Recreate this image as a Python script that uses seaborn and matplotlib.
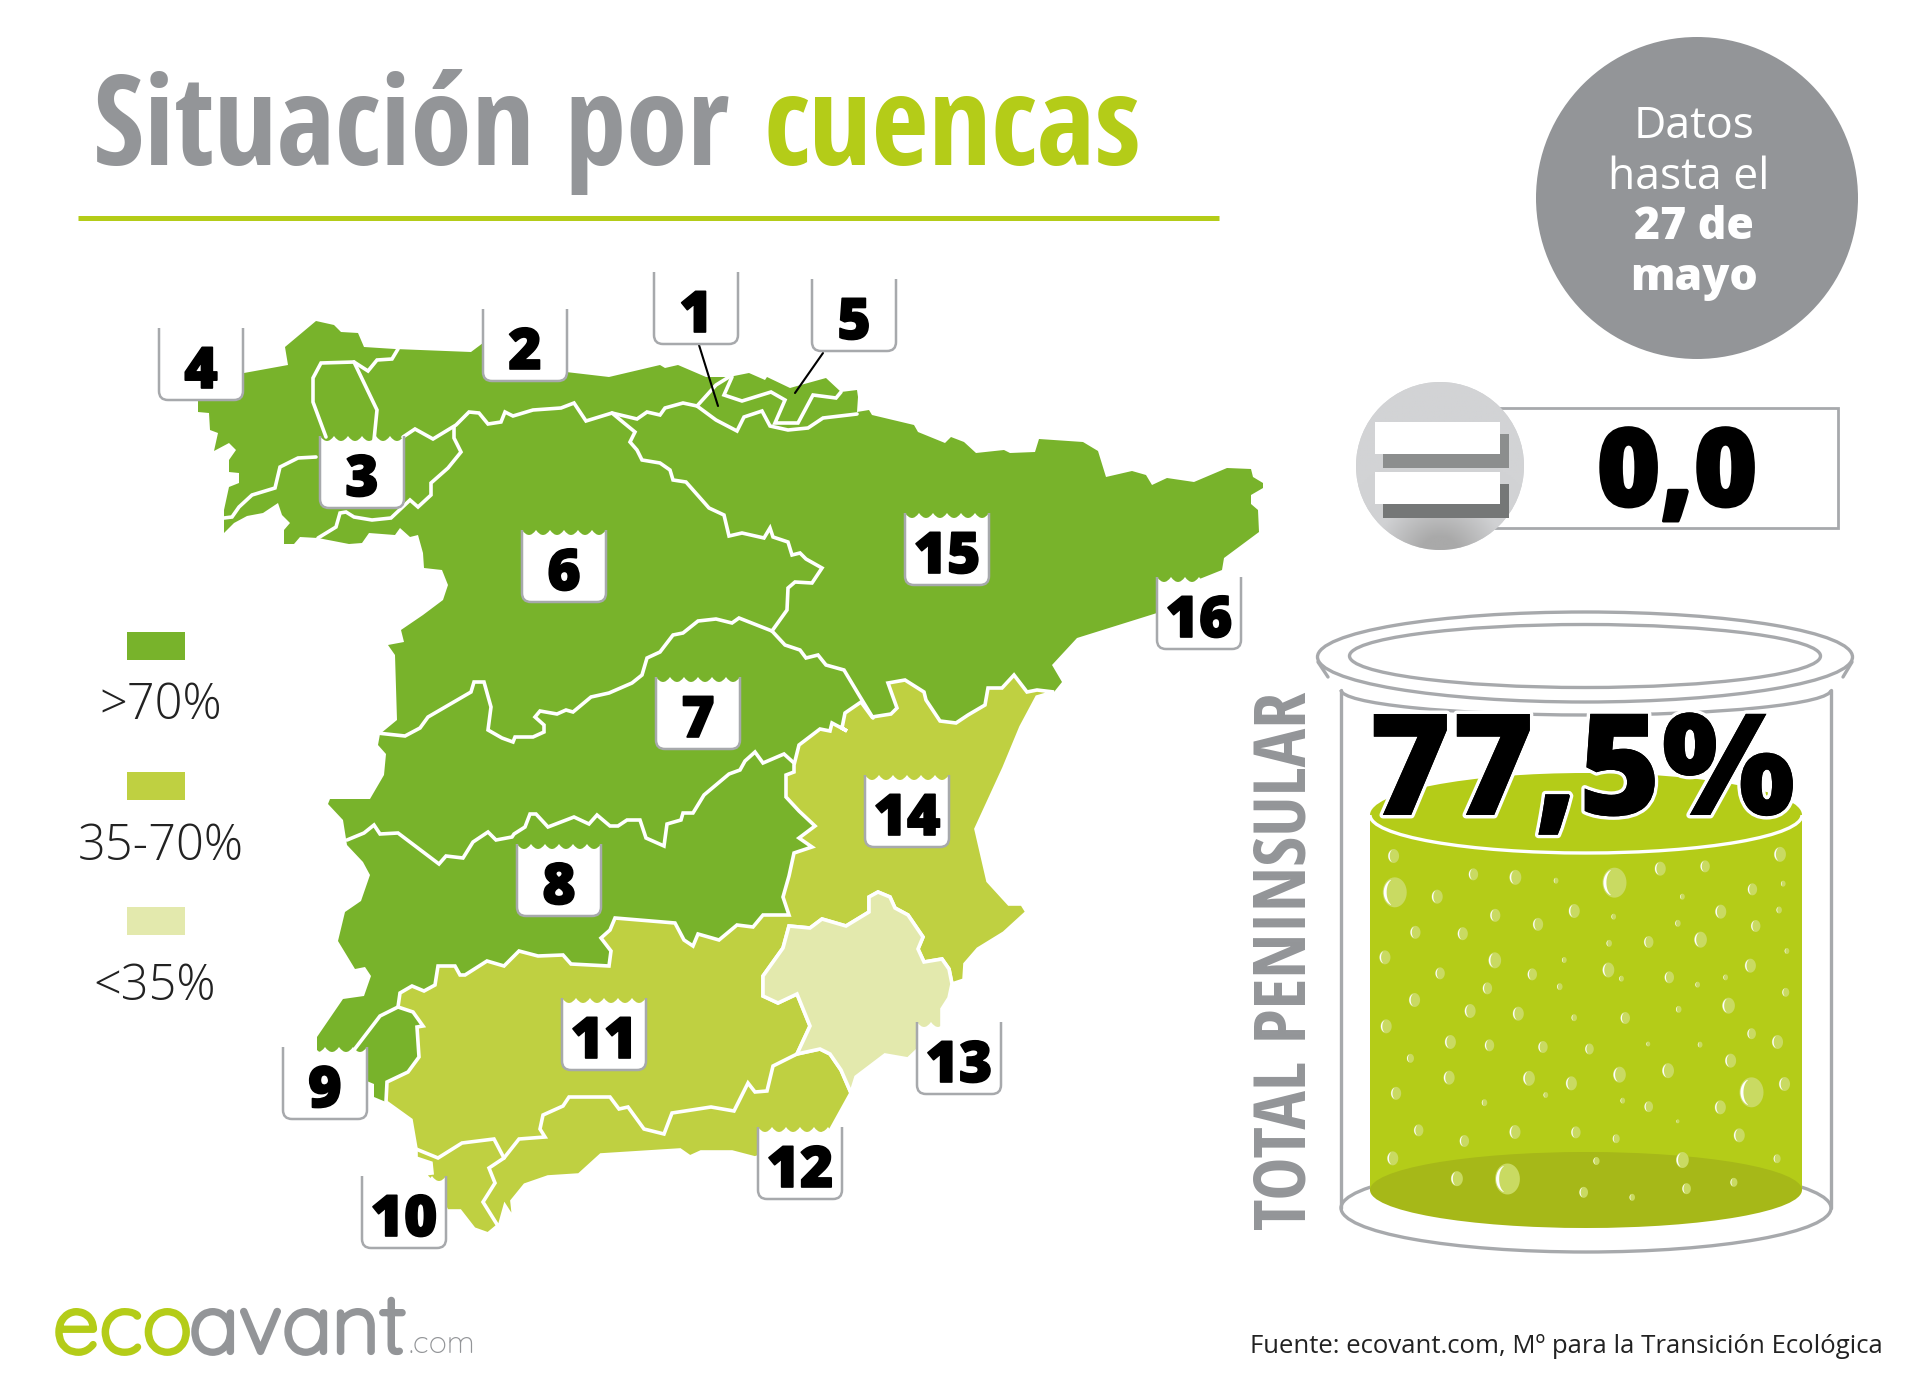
"""Situación por cuencas: reserva de agua por cuenca y total peninsular."""

import matplotlib.pyplot as plt
import matplotlib.patheffects as pe
import numpy as np
import pandas as pd
import seaborn as sns
from matplotlib.colors import LinearSegmentedColormap
from matplotlib.markers import MarkerStyle
from matplotlib.patches import Arc, Circle, Ellipse, PathPatch, Rectangle
from matplotlib.path import Path

# ── datos ──────────────────────────────────────────────────────────────────────

TITLE_GREY = "Situación por"
TITLE_GREEN = "cuencas"
TOTAL_VALUE = "77,5%"
WEEK_CHANGE = "0,0"
LEGEND_LABELS = [">70%", "35-70%", "<35%"]
SOURCE = "Fuente: ecovant.com, Mº para la Transición Ecológica"

# Contornos del mapa (x, y en píxeles)
COAST = [
    (224, 517), (224, 510), (229, 487), (239, 483), (239, 473), (229, 472), (229, 460), (236, 450),
    (229, 443), (214, 451), (218, 433), (210, 430), (209, 413), (198, 412), (198, 400), (244, 373),
    (288, 365), (285, 347), (316, 321), (334, 325), (341, 332), (358, 333), (364, 347), (395, 349),
    (471, 352), (483, 343), (566, 372), (609, 377), (660, 365), (665, 368), (678, 365), (706, 377),
    (729, 377), (749, 373), (765, 380), (767, 377), (790, 388), (826, 378), (841, 392), (857, 390),
    (858, 397), (857, 412), (869, 410), (872, 415), (914, 425), (918, 432), (945, 443), (951, 437),
    (964, 442), (976, 453), (1004, 450), (1010, 453), (1035, 452), (1039, 439), (1083, 442),
    (1098, 451), (1106, 477), (1132, 471), (1146, 475), (1152, 485), (1167, 478), (1194, 482),
    (1227, 468), (1251, 469), (1253, 477), (1263, 483), (1263, 488), (1251, 495), (1251, 504),
    (1258, 510), (1259, 532), (1224, 558), (1222, 570), (1197, 580), (1157, 613), (1077, 638),
    (1052, 665), (1062, 682), (1054, 692), (1037, 697), (1021, 727), (1004, 768), (976, 829),
    (988, 881), (1009, 904), (1022, 904), (1027, 912), (1004, 933), (978, 949), (965, 964),
    (964, 980), (952, 984), (949, 998), (942, 1009), (942, 1027), (908, 1059), (885, 1055),
    (856, 1077), (851, 1093), (830, 1131), (755, 1158), (732, 1152), (701, 1152), (690, 1157),
    (680, 1150), (601, 1155), (579, 1175), (548, 1177), (525, 1185), (512, 1201), (514, 1220),
    (505, 1206), (500, 1224), (488, 1234), (474, 1229), (460, 1211), (447, 1211), (431, 1181),
    (424, 1174), (432, 1173), (431, 1163), (416, 1158), (416, 1149), (411, 1120), (386, 1102),
    (374, 1097), (374, 1084), (340, 1070), (317, 1050), (317, 1037), (343, 999), (364, 996),
    (371, 976), (365, 967), (355, 969), (338, 941), (345, 912), (361, 901), (370, 875), (363, 862),
    (347, 845), (343, 820), (328, 804), (330, 799), (370, 799), (384, 775), (386, 754), (378, 745),
    (380, 734), (397, 720), (395, 655), (388, 645), (404, 642), (401, 630), (423, 615), (443, 600),
    (448, 585), (442, 570), (424, 568), (423, 553), (418, 535), (410, 537), (400, 528), (395, 535),
    (369, 533), (362, 543), (349, 544), (318, 538), (300, 537), (294, 544), (284, 544), (284, 530),
    (290, 523), (282, 515), (278, 503), (263, 513), (247, 516), (234, 523), (224, 533),
]
MID_BASINS = [
    (1054, 692), (1037, 690), (1027, 692), (1014, 675), (1002, 688), (988, 688), (985, 705),
    (968, 715), (956, 723), (940, 721), (926, 700), (924, 692), (905, 680), (888, 683), (897, 708),
    (891, 714), (872, 717), (861, 702), (845, 713), (842, 728), (847, 731), (832, 723), (830, 731),
    (820, 729), (799, 745), (794, 765), (794, 772), (786, 775), (786, 797), (799, 811), (815, 826),
    (799, 838), (812, 847), (794, 853), (789, 876), (783, 897), (789, 915), (763, 915), (753, 927),
    (737, 925), (719, 940), (698, 934), (693, 946), (684, 940), (675, 923), (615, 918), (610, 930),
    (601, 938), (611, 951), (609, 966), (571, 964), (563, 955), (538, 956), (519, 951), (504, 966),
    (487, 961), (465, 975), (460, 975), (455, 966), (438, 966), (435, 985), (424, 991), (412, 986),
    (400, 993), (398, 1007), (413, 1012), (423, 1026), (417, 1027), (419, 1057), (408, 1072),
    (387, 1082), (386, 1102), (411, 1120), (416, 1149), (416, 1158), (431, 1163), (432, 1173),
    (424, 1174), (431, 1181), (447, 1211), (460, 1211), (474, 1229), (488, 1234), (500, 1224),
    (505, 1206), (514, 1220), (512, 1201), (525, 1185), (548, 1177), (579, 1175), (601, 1155),
    (680, 1150), (690, 1157), (701, 1152), (732, 1152), (755, 1158), (830, 1131), (851, 1093),
    (841, 1070), (830, 1054), (820, 1049), (797, 1054), (810, 1026), (797, 994), (778, 1003),
    (763, 996), (763, 976), (783, 948), (789, 926), (810, 928), (822, 919), (846, 926), (869, 912),
    (869, 897), (878, 892), (890, 897), (895, 908), (908, 915), (923, 937), (918, 949), (924, 962),
    (942, 959), (949, 969), (952, 984), (964, 980), (965, 964), (978, 949), (1004, 933), (1027, 912),
    (1022, 904), (1009, 904), (988, 881), (976, 829), (1004, 768), (1021, 727), (1037, 697),
]
LOW_BASIN = [
    (789, 926), (810, 928), (822, 919), (846, 926), (869, 912), (869, 897), (878, 892), (890, 897),
    (895, 908), (908, 915), (923, 937), (918, 949), (924, 962), (942, 959), (949, 969), (952, 984),
    (949, 998), (942, 1009), (942, 1027), (908, 1059), (885, 1055), (856, 1077), (851, 1093),
    (841, 1070), (830, 1054), (820, 1049), (797, 1054), (810, 1026), (797, 994), (778, 1003),
    (763, 996), (763, 976), (783, 948),
]
# Fronteras interiores entre cuencas
BORDERS = [
    [(377, 733), (405, 736), (420, 728), (428, 717), (471, 692), (474, 682), (484, 682), (491, 707),
     (488, 730), (502, 738), (513, 742), (515, 737), (533, 737), (544, 732), (544, 725), (535, 717),
     (540, 711), (557, 714), (566, 710), (573, 712), (591, 697), (609, 693), (632, 683), (642, 675),
     (647, 658), (660, 652), (673, 635), (683, 633), (698, 621), (716, 619), (732, 623), (739, 618),
     (772, 631)],
    [(772, 631), (787, 610), (788, 588), (795, 582), (812, 583), (822, 568), (806, 559), (800, 553),
     (792, 555), (788, 542), (773, 537), (770, 528), (764, 538), (742, 533), (729, 536), (724, 515),
     (709, 508), (686, 482), (673, 480), (670, 470), (660, 463), (642, 460), (637, 450), (630, 442),
     (635, 432), (624, 423), (612, 413)],
    [(403, 437), (415, 429), (433, 439), (456, 425), (469, 412), (479, 413), (488, 424), (501, 422),
     (505, 412), (513, 416), (533, 410), (561, 408), (574, 403), (586, 421), (612, 413), (637, 419),
     (647, 412), (660, 415), (665, 408), (683, 403), (697, 406), (716, 420), (737, 431), (744, 417),
     (762, 411), (770, 426), (788, 430), (808, 428), (823, 418), (857, 414)],
    [(697, 406), (716, 385), (729, 377)],
    [(732, 377), (724, 395), (742, 401), (771, 392), (785, 400), (775, 423), (798, 423), (813, 395),
     (836, 398), (841, 392)],
    [(398, 349), (392, 359), (377, 360), (368, 371), (354, 362), (321, 363), (313, 378), (313, 402),
     (326, 437)],
    [(354, 362), (377, 410), (374, 440)],
    [(316, 457), (298, 458), (280, 467), (275, 488), (252, 495), (239, 507), (232, 517), (224, 518)],
    [(454, 427), (454, 438), (461, 452), (448, 468), (431, 483), (431, 495), (418, 507), (410, 500),
     (391, 518), (372, 520), (354, 517), (346, 512), (340, 513), (336, 527), (318, 538)],
    [(347, 840), (364, 833), (374, 825), (380, 834), (398, 833), (439, 864), (446, 856), (463, 858),
     (473, 842), (488, 832), (496, 840), (512, 837), (514, 834), (525, 827), (530, 814), (536, 814),
     (548, 827), (574, 817), (589, 824), (597, 815), (610, 826), (618, 826), (627, 820), (640, 820),
     (646, 838), (664, 846), (667, 824), (681, 820), (683, 813), (693, 813), (704, 795), (729, 774),
     (740, 770), (745, 761), (755, 752), (763, 763), (784, 754), (794, 763)],
    [(772, 631), (785, 645), (800, 650), (806, 658), (818, 655), (826, 665), (844, 670), (859, 695),
     (873, 718)],
    [(398, 1007), (380, 1016), (354, 1050)],
    [(416, 1149), (438, 1158), (462, 1143), (494, 1139), (504, 1158)],
    [(498, 1226), (483, 1202), (495, 1183), (489, 1168), (504, 1158), (519, 1139), (545, 1137),
     (540, 1129), (543, 1115), (563, 1106), (569, 1097), (610, 1097), (619, 1109), (628, 1107),
     (644, 1129), (664, 1134), (672, 1113), (711, 1107), (734, 1111), (748, 1083), (755, 1092),
     (767, 1091), (773, 1066), (797, 1054)],
]

# Etiquetas de cuenca: número y esquina superior izquierda
BASIN_IDS = ["1", "2", "3", "4", "5", "6", "7", "8", "9", "10", "11", "12", "13", "14", "15", "16"]
BASIN_LEFT = [654, 483, 320, 159, 812, 522, 656, 517, 283, 362, 562, 758, 917, 865, 905, 1157]
BASIN_TOP = [272, 309, 436, 328, 279, 530, 677, 844, 1047, 1176, 998, 1127, 1022, 775, 513, 577]

BUBBLE_ZX = [373, 376, 479, 567, 669, 768, 910, 1021, 1130, 1312, 1245, 1320, 1075, 620, 724, 812, 908,
             1168, 1310, 426, 541, 1064, 1253, 897, 993, 1119, 1329, 352, 619, 788, 486, 710, 895, 927,
             1043, 1240, 1180, 1112, 777, 601, 1326, 424, 559, 676, 812, 936, 1066, 1187, 355, 511, 606,
             736, 849, 992, 1118, 1243, 1306, 414, 1192, 508, 702, 805, 922, 1040, 1243, 1323, 379, 594,
             743, 930, 993, 1167, 1064, 434, 545, 668, 816, 914, 1213, 371, 866, 1075, 1305, 527, 650,
             835, 953, 1085, 1200]
BUBBLE_ZY = [228, 337, 350, 283, 292, 302, 308, 266, 259, 223, 328, 311, 350, 406, 433, 393, 410,
             395, 390, 457, 461, 430, 438, 490, 486, 479, 513, 532, 541, 540, 580, 583, 570, 596,
             592, 557, 592, 614, 620, 625, 637, 660, 693, 701, 713, 714, 688, 677, 739, 786, 796,
             801, 807, 792, 794, 761, 786, 835, 842, 893, 895, 910, 884, 872, 937, 912, 940, 968,
             945, 962, 980, 982, 1024, 1051, 1083, 1056, 1057, 1076, 1066, 1135, 1143, 1140, 1136, 1196, 1197,
             1237, 1252, 1226, 1207]
BUBBLE_H = [14, 30, 14, 12, 15, 6, 30, 14, 12, 15, 12, 6, 6, 13, 13, 14, 6,
            14, 7, 13, 13, 7, 12, 7, 12, 16, 6, 14, 16, 6, 12, 12, 15, 6,
            12, 14, 6, 6, 7, 12, 9, 14, 14, 14, 7, 12, 7, 16, 14, 14, 12,
            12, 11, 5, 6, 11, 14, 9, 14, 14, 15, 14, 16, 15, 30, 14, 13, 7,
            6, 6, 11, 14, 4, 12, 12, 14, 12, 9, 14, 14, 8, 16, 9, 15, 31,
            11, 7, 11, 9]

# ── estilo ─────────────────────────────────────────────────────────────────────

GREEN_HIGH = "#78b32b"
GREEN_MID = "#bfd041"
GREEN_LOW = "#e3e9ad"
LIME = "#b4cc18"
GREY = "#939598"
FRAME = "#a7a9ac"
NARROW = ["Open Sans Condensed", "Fira Sans Condensed", "DejaVu Sans"]
ROUNDED = ["Quicksand", "Lato", "DejaVu Sans"]
PX = 0.72  # puntos por píxel a 100 dpi

sns.set_theme(style="white")
plt.rcParams["font.family"] = ["Open Sans", "DejaVu Sans"]
plt.rcParams["patch.force_edgecolor"] = False
plt.rcParams["patch.edgecolor"] = "none"


def scalloped_box(left, top, width=84, height=72, n=6, depth=5, radius=9):
    """Etiqueta blanca con el borde superior en ondas."""
    right, bottom = left + width, top + height
    verts = [(left, top)]
    codes = [Path.MOVETO]
    step = width / n
    for i in range(n):
        verts += [(left + (i + 0.5) * step, top + 2 * depth), (left + (i + 1) * step, top)]
        codes += [Path.CURVE3, Path.CURVE3]
    outline = [(right, bottom - radius), (right, bottom), (right - radius, bottom),
               (left + radius, bottom), (left, bottom), (left, bottom - radius)]
    edge_codes = [Path.LINETO, Path.CURVE3, Path.CURVE3, Path.LINETO, Path.CURVE3, Path.CURVE3]
    fill = Path(verts + outline + [(left, top)], codes + edge_codes + [Path.LINETO])
    edge = Path([(right, top)] + outline + [(left, top)], [Path.MOVETO] + edge_codes + [Path.LINETO])
    return fill, edge


def draw_map(ax):
    ax.fill(*zip(*COAST), color=GREEN_HIGH, lw=0, zorder=2)
    ax.fill(*zip(*MID_BASINS), facecolor=GREEN_MID, edgecolor="white", lw=2.6, zorder=3)
    ax.fill(*zip(*LOW_BASIN), facecolor=GREEN_LOW, edgecolor="white", lw=2.6, zorder=3.1)
    for line in BORDERS:
        ax.plot(*zip(*line), color="white", lw=2.6, zorder=3.2, solid_joinstyle="miter")

    ax.plot([699, 718], [345, 406], color="black", lw=1.5, zorder=4)
    ax.plot([823, 795], [353, 393], color="black", lw=1.5, zorder=4)

    for label, left, top in zip(BASIN_IDS, BASIN_LEFT, BASIN_TOP):
        fill, edge = scalloped_box(left, top)
        ax.add_patch(PathPatch(fill, facecolor="white", edgecolor="none", zorder=5))
        ax.add_patch(PathPatch(edge, facecolor="none", edgecolor=FRAME, lw=1.8, zorder=5.1))
        ax.text(left + 42, top + 60, label, ha="center", va="baseline", fontsize=41,
                fontweight=800, color="black", zorder=6,
                path_effects=[pe.withStroke(linewidth=1.2, foreground="black")])


def draw_legend(ax):
    colors = [GREEN_HIGH, GREEN_MID, GREEN_LOW]
    tops = [632, 772, 907]
    centers = [161, 161, 155]
    baselines = [719, 860, 1000]
    for color, top, cx, base, label in zip(colors, tops, centers, baselines, LEGEND_LABELS):
        ax.add_patch(Rectangle((127, top), 58, 28, facecolor=color, zorder=2))
        ax.text(cx, base, label, ha="center", va="baseline", fontsize=35, color="#222222",
                fontweight=300)


def draw_badge(ax):
    ax.add_patch(Circle((1697, 198), 161, facecolor=GREY, zorder=2))
    lines = ["Datos", "hasta el", "27 de", "mayo"]
    xs = [1694, 1689, 1694, 1694]
    ys = [138, 189, 239, 290]
    weights = [400, 400, 800, 800]
    for text, x, y, weight in zip(lines, xs, ys, weights):
        ax.text(x, y, text, ha="center", va="baseline", fontsize=32, color="white",
                fontweight=weight, zorder=3)


def draw_equal_icon(ax):
    ax.add_patch(Rectangle((1480, 408), 358, 120, facecolor="white", edgecolor=FRAME, lw=2, zorder=2))
    ax.text(1677, 506, WEEK_CHANGE, ha="center", va="baseline", fontsize=78, fontweight=800,
            color="black", zorder=3, path_effects=[pe.withStroke(linewidth=2, foreground="black")])

    disc = Circle((1440, 466), 84, facecolor="#d0d1d3", zorder=3)
    ax.add_patch(disc)
    xx, yy = np.meshgrid(np.linspace(-1, 1, 100), np.linspace(-1, 1, 100))
    shade = np.clip(1.2 - np.hypot(xx / 1.1, yy - 1.05), 0, 1)
    cmap = LinearSegmentedColormap.from_list("disc", ["#d2d3d5", "#d0d1d3", "#a9a9a9"])
    img = ax.imshow(shade, extent=(1356, 1524, 550, 382), cmap=cmap, aspect="auto", zorder=3.1)
    img.set_clip_path(disc)

    for top, shadow in ((422, "#8c8e8e"), (472, "#757777")):
        ax.add_patch(Rectangle((1383, top + 12), 126, 34, facecolor=shadow, zorder=3.2))
        ax.add_patch(Rectangle((1375, top), 125, 32, facecolor="white", zorder=3.3))


def draw_glass(ax):
    grey = dict(edgecolor=FRAME, lw=2.4)
    ax.add_patch(Ellipse((1586, 1208), 490, 88, facecolor="white", zorder=2, **grey))
    ax.plot([1341, 1341], [690, 1208], color=FRAME, lw=2.4, zorder=2)
    ax.plot([1831, 1831], [690, 1208], color=FRAME, lw=2.4, zorder=2)
    ax.add_patch(Arc((1586, 690), 490, 50, theta1=0, theta2=180, color=FRAME, lw=2.4, zorder=2))

    ax.add_patch(Rectangle((1370, 815), 432, 375, facecolor=LIME, zorder=3))
    ax.add_patch(Ellipse((1586, 815), 432, 84, facecolor=LIME, zorder=3))
    ax.add_patch(Ellipse((1586, 1190), 432, 76, facecolor="#a6b818", zorder=3.1))
    ax.add_patch(Arc((1586, 815), 432, 76, theta1=0, theta2=180, color="white", lw=2.4, zorder=3.2))

    ax.add_patch(Ellipse((1585, 657), 535, 90, facecolor="white", zorder=4, **grey))
    ax.add_patch(Ellipse((1585, 656), 471, 63, facecolor="white", zorder=4, **grey))
    ax.plot([1318, 1328], [662, 677], color=FRAME, lw=2.4, zorder=3.9)
    ax.plot([1852, 1843], [662, 677], color=FRAME, lw=2.4, zorder=3.9)

    bubbles = pd.DataFrame({"zx": BUBBLE_ZX, "zy": BUBBLE_ZY, "h": BUBBLE_H})
    bubbles["x"] = 1240 + bubbles["zx"] / 2.43
    bubbles["y"] = 780 + bubbles["zy"] / 3
    sizes = (bubbles["h"] * PX) ** 2

    t = np.linspace(0, 2 * np.pi, 40)
    oval = Path(np.column_stack([0.8 * np.cos(t), np.sin(t)]), closed=True)
    a = np.linspace(np.pi * 0.62, np.pi * 1.38, 14)
    crescent = np.vstack([
        np.column_stack([0.74 * np.cos(a), 0.9 * np.sin(a)]),
        np.column_stack([0.48 * np.cos(a[::-1]) - 0.06, 0.88 * np.sin(a[::-1])]),
    ])
    # dos puntos extra para que el marcador conserve la escala del óvalo
    spark = Path(np.vstack([[(0, 1)], [(0, -1)], crescent, crescent[:1]]),
                 [Path.MOVETO, Path.MOVETO, Path.MOVETO] + [Path.LINETO] * (len(crescent) - 1) + [Path.CLOSEPOLY])
    sns.scatterplot(data=bubbles, x="x", y="y", s=sizes, marker=MarkerStyle(oval), color="#c9da62",
                    linewidth=0, legend=False, ax=ax, zorder=3.5)
    sns.scatterplot(data=bubbles, x="x", y="y", s=sizes, marker=MarkerStyle(spark), color="white",
                    linewidth=0, legend=False, ax=ax, zorder=3.6)

    ax.text(1582, 815, TOTAL_VALUE, ha="center", va="baseline", fontsize=102, fontweight=800,
            color="black", zorder=7,
            path_effects=[pe.withStroke(linewidth=5, foreground="white"), pe.Normal()])
    ax.text(1305, 1230, "TOTAL PENINSULAR", rotation=90, ha="left", va="baseline",
            rotation_mode="anchor", fontsize=52, family=NARROW, fontweight="bold", color=GREY)


def draw_header_footer(ax):
    ax.text(93, 165, TITLE_GREY, ha="left", va="baseline", fontsize=89, family=NARROW,
            fontweight="bold", color=GREY)
    ax.text(763, 165, TITLE_GREEN, ha="left", va="baseline", fontsize=89, family=NARROW,
            fontweight="bold", color=LIME)
    ax.plot([78, 1219], [218, 218], color=LIME, lw=3.6, solid_capstyle="butt")

    ax.text(53, 1353, "eco", ha="left", va="baseline", fontsize=60, family=ROUNDED, color=LIME,
            path_effects=[pe.withStroke(linewidth=3, foreground=LIME)])
    ax.text(189, 1353, "avant", ha="left", va="baseline", fontsize=60, family=ROUNDED, color=GREY,
            path_effects=[pe.withStroke(linewidth=3, foreground=GREY)])
    ax.text(408, 1353, ".com", ha="left", va="baseline", fontsize=22, family=ROUNDED, color=GREY)
    ax.text(1250, 1353, SOURCE, ha="left", va="baseline", fontsize=18.55, color="#222222")


def main():
    fig = plt.figure(figsize=(19.2, 14), dpi=100, facecolor="white")
    ax = fig.add_axes([0, 0, 1, 1])

    draw_map(ax)
    draw_legend(ax)
    draw_badge(ax)
    draw_equal_icon(ax)
    draw_glass(ax)
    draw_header_footer(ax)

    ax.set_xlim(0, 1920)
    ax.set_ylim(1400, 0)
    ax.axis("off")
    fig.savefig("out.png", dpi=100)


if __name__ == "__main__":
    main()
